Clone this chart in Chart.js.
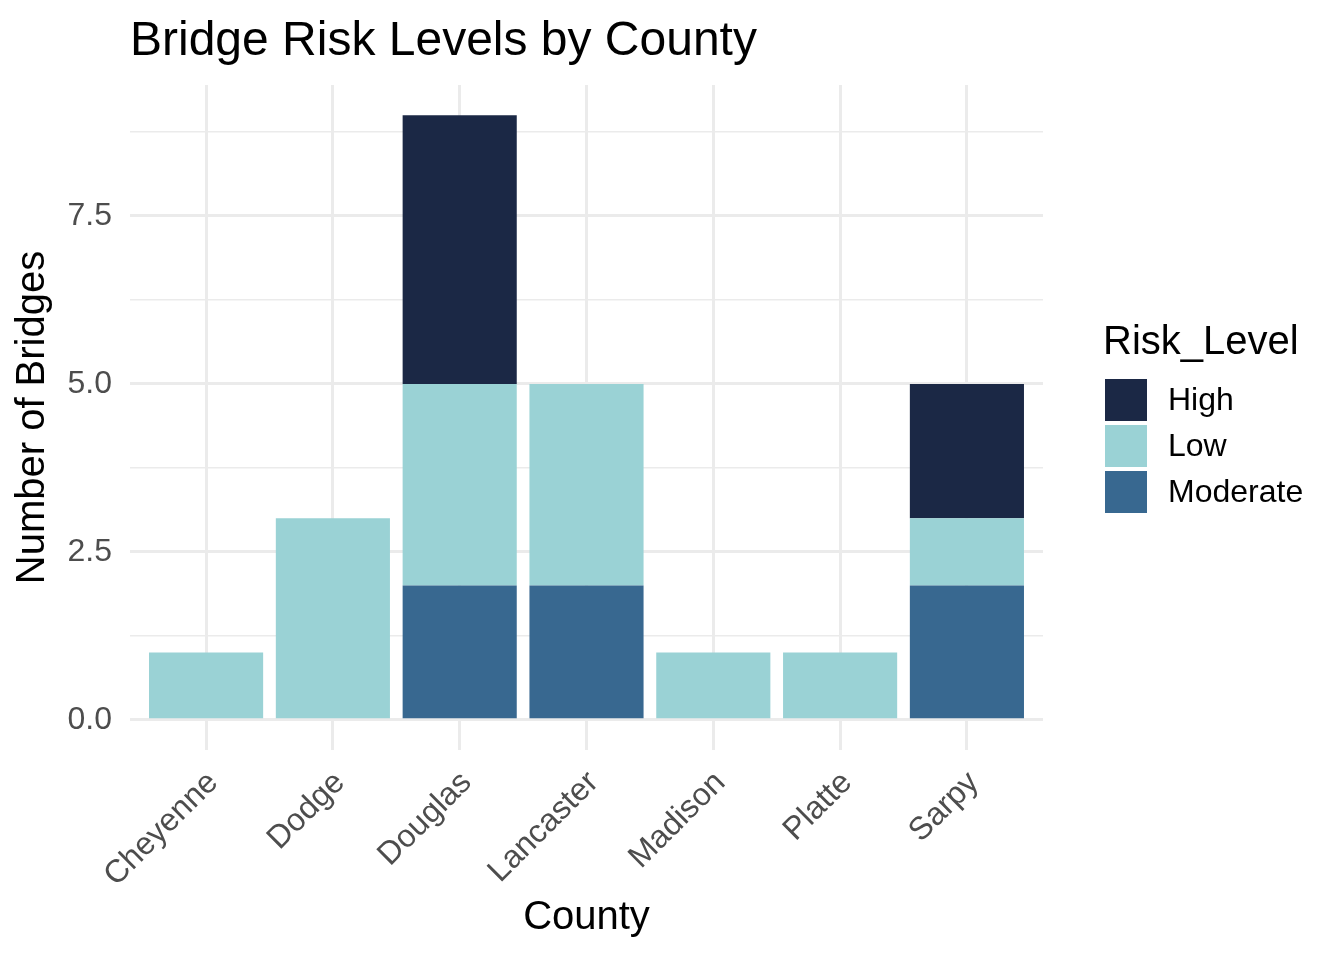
<!DOCTYPE html>
<html>
<head>
<meta charset="utf-8">
<script src="https://cdn.jsdelivr.net/npm/chart.js@4"></script>
<style>
  html, body { margin: 0; padding: 0; background: #ffffff; }
  #wrap { width: 1344px; height: 960px; }
</style>
</head>
<body>
<div id="wrap"><canvas id="c" width="1344" height="960"></canvas></div>
<script>
// ---- data ----
const counties = ['Cheyenne', 'Dodge', 'Douglas', 'Lancaster', 'Madison', 'Platte', 'Sarpy'];
const riskLevels = ['High', 'Low', 'Moderate'];          // legend order
const highValues     = [0, 0, 4, 0, 0, 0, 2];
const lowValues      = [1, 3, 3, 3, 1, 1, 1];
const moderateValues = [0, 0, 2, 2, 0, 0, 2];
const majorYTicks = [0, 2.5, 5, 7.5];
const minorYTicks = [1.25, 3.75, 6.25, 8.75];
const chartTitle = 'Bridge Risk Levels by County';
const xTitle = 'County';
const yTitle = 'Number of Bridges';
const legendTitle = 'Risk_Level';

const colors = { High: '#1B2845', Low: '#9AD2D5', Moderate: '#386890' };
const valuesByLevel = { High: highValues, Low: lowValues, Moderate: moderateValues };

const FONT = "'Liberation Sans', Arial, Helvetica, sans-serif";
const GRID = '#EBEBEB';

// stack order: first dataset at bottom (Moderate), then Low, then High
const stackOrder = ['Moderate', 'Low', 'High'];
const datasets = stackOrder.map(level => ({
  label: level,
  data: valuesByLevel[level].map((v, i) => ({ x: i, y: v })),
  backgroundColor: colors[level],
  borderWidth: 0,
  barPercentage: 0.9,
  categoryPercentage: 1.0
}));

const allYTicks = majorYTicks.concat(minorYTicks).sort((a, b) => a - b);

const customDecor = {
  id: 'customDecor',
  afterDraw(chart) {
    const ctx = chart.ctx;
    ctx.save();
    // title
    ctx.fillStyle = '#000000';
    ctx.font = `48px ${FONT}`;
    ctx.textAlign = 'left';
    ctx.textBaseline = 'alphabetic';
    ctx.fillText(chartTitle, chart.chartArea.left, 55);

    // legend
    ctx.font = `40px ${FONT}`;
    ctx.fillText(legendTitle, 1103, 354);
    const keyX = 1105, keyY0 = 379, keySize = 42, keyStep = 46;
    ctx.font = `32px ${FONT}`;
    ctx.textBaseline = 'middle';
    riskLevels.forEach((level, i) => {
      const ds = chart.data.datasets.find(d => d.label === level);
      const y = keyY0 + i * keyStep;
      ctx.fillStyle = ds.backgroundColor;
      ctx.fillRect(keyX, y, keySize, keySize);
      ctx.fillStyle = '#000000';
      ctx.fillText(level, 1168, y + keySize / 2 + 1);
    });
    ctx.restore();
  }
};

new Chart(document.getElementById('c'), {
  type: 'bar',
  data: { datasets },
  options: {
    responsive: false,
    devicePixelRatio: 1,
    animation: false,
    layout: { padding: { left: 0, right: 301, top: 85, bottom: 0 } },
    plugins: {
      legend: { display: false },
      title: { display: false },
      tooltip: { enabled: false }
    },
    scales: {
      x: {
        type: 'linear',
        stacked: true,
        offset: false,
        min: -0.6,
        max: 6.6,
        afterBuildTicks: (scale) => { scale.ticks = counties.map((c, i) => ({ value: i })); },
        afterFit: (scale) => { scale.height = 210; },
        border: { display: false },
        grid: { color: GRID, lineWidth: 3, drawTicks: false, offset: false },
        ticks: {
          autoSkip: false,
          minRotation: 45,
          maxRotation: 45,
          padding: 14,
          labelOffset: 7,
          color: '#4D4D4D',
          font: { family: FONT, size: 32 },
          callback: (v) => counties[v] !== undefined ? counties[v] : ''
        },
        title: {
          display: true,
          text: xTitle,
          color: '#000000',
          font: { family: FONT, size: 40 },
          padding: { top: 0, bottom: 18 }
        }
      },
      y: {
        stacked: true,
        min: -0.45,
        max: 9.45,
        afterBuildTicks: (scale) => { scale.ticks = allYTicks.map(v => ({ value: v })); },
        afterFit: (scale) => { scale.width = 130; },
        border: { display: false },
        grid: {
          color: GRID,
          drawTicks: false,
          lineWidth: (ctx) => (ctx.tick && majorYTicks.includes(ctx.tick.value)) ? 3 : 1.5
        },
        ticks: {
          padding: 18,
          color: '#4D4D4D',
          font: { family: FONT, size: 32 },
          callback: (v) => majorYTicks.includes(v) ? v.toFixed(1) : ''
        },
        title: {
          display: true,
          text: yTitle,
          color: '#000000',
          font: { family: FONT, size: 40 },
          padding: { top: 9, bottom: 0 }
        }
      }
    }
  },
  plugins: [customDecor]
});
</script>
</body>
</html>
